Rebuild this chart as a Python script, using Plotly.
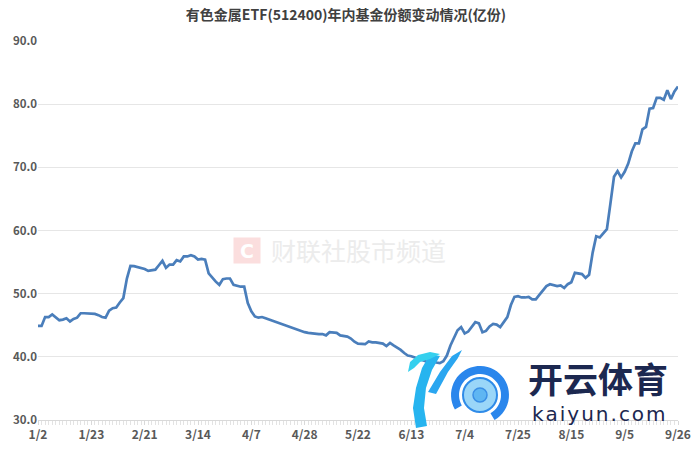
import math
import plotly.graph_objects as go

title_text = "有色金属ETF(512400)年内基金份额变动情况(亿份)"

tick_labels = ["1/2", "1/23", "2/21", "3/14", "4/7", "4/28", "5/22",
               "6/13", "7/4", "7/25", "8/15", "9/5", "9/26"]
label_step = 15

shares = [
    44.9, 44.9, 46.3, 46.3, 46.7, 46.3, 45.8, 45.9, 46.1, 45.6,
    46.0, 46.2, 46.9, 46.9, 46.9, 46.8, 46.8, 46.6, 46.3, 46.2,
    47.3, 47.7, 47.8, 48.6, 49.3, 52.4, 54.4, 54.35, 54.2, 54.0,
    53.9, 53.6, 53.7, 53.8, 54.5, 55.2, 54.1, 54.6, 54.6, 55.3,
    55.1, 55.9, 55.9, 56.1, 55.9, 55.4, 55.5, 55.4, 53.2, 52.5,
    51.9, 51.4, 52.3, 52.4, 52.4, 51.4, 51.2, 51.1, 51.1, 48.5,
    47.2, 46.4, 46.2, 46.3, 46.1, 45.9, 45.6, 45.4, 45.3, 45.1,
    44.8, 44.6, 44.4, 44.2, 44.0, 43.9, 43.8, 43.7, 43.65, 43.6,
    43.6, 43.4, 43.9, 43.9, 43.8, 43.4, 43.3, 43.2, 42.9, 42.4,
    42.1, 42.0, 42.0, 42.45, 42.3, 42.3, 42.2, 42.1, 41.7, 42.2,
    41.8, 41.5, 41.1, 40.6, 40.2, 40.1, 39.9, 39.6, 39.4, 39.3,
    39.2, 39.3, 39.1, 39.0, 39.3, 40.2, 41.8, 43.0, 44.2, 44.7,
    43.7, 44.0, 44.8, 45.5, 45.3, 43.9, 44.1, 44.8, 45.2, 45.1,
    44.7, 45.5, 46.3, 48.2, 49.5, 49.6, 49.4, 49.4, 49.5, 49.1,
    49.1, 49.8, 50.6, 51.2, 51.5, 51.3, 51.2, 51.3, 50.9, 51.5,
    51.8, 53.3, 53.2, 53.1, 52.5, 53.0, 56.5, 59.1, 58.9, 59.5,
    60.2, 64.3, 68.5, 69.4, 68.4, 69.3, 70.6, 72.5, 73.8, 73.8,
    76.0, 76.4, 79.3, 79.4, 81.0, 81.0, 80.7, 82.2, 80.8, 82.0,
    82.8,
]

x_idx = list(range(len(shares)))
tick_vals = [i * label_step for i in range(len(tick_labels))]

CJK = "Noto Sans CJK SC, Noto Sans, sans-serif"

# the page body margin is removed by post_script below, so figure px == screen px
W, H = 692, 450
ML, MR, MT, MB = 38, 14, 41, 30
PW, PH = W - ML - MR, H - MT - MB


def fx(px):  # screen pixel x -> paper x
    return (px - ML) / PW


def fy(py):  # screen pixel y -> paper y
    return (H - MB - py) / PH


def path_from(points):
    s = "M " + " L ".join(f"{fx(a):.4f},{fy(b):.4f}" for a, b in points)
    return s + " Z"


fig = go.Figure()
fig.add_trace(go.Scatter(
    x=x_idx, y=shares, mode="lines",
    line=dict(color="#4a7ebb", width=2.7),
    hoverinfo="skip", showlegend=False,
))

fig.update_layout(
    width=W, height=H,
    margin=dict(l=ML, r=MR, t=MT, b=MB),
    paper_bgcolor="white", plot_bgcolor="white",
    title=dict(text=title_text, x=346 / W, xanchor="center", xref="container",
               y=1 - 15 / H, yanchor="middle", pad=dict(t=0, b=0),
               font=dict(family=CJK, size=14, color="#404040", weight="bold")),
    xaxis=dict(
        range=[0, len(shares) - 1], automargin=False,
        tickmode="array", tickvals=tick_vals, ticktext=tick_labels,
        showgrid=False, zeroline=False,
        showline=True, linecolor="#d9d9d9", linewidth=1,
        ticks="outside", ticklen=4, tickcolor="#d9d9d9",
        minor=dict(tick0=0, dtick=1, ticks="outside", ticklen=4,
                   tickcolor="#e3e3e3", showgrid=False),
        tickfont=dict(family=CJK, size=12, color="#595959", weight=600),
    ),
    yaxis=dict(
        range=[30, 90], dtick=10, tickformat=".1f", automargin=False,
        showgrid=True, gridcolor="#e6e6e6", gridwidth=1,
        zeroline=False, showline=False, ticks="",
        tickfont=dict(family=CJK, size=11.5, color="#595959", weight=600),
    ),
)


def note(x, y, text, font, **kw):
    fig.add_annotation(xref="paper", yref="paper", x=fx(x), y=fy(y), text=text,
                       showarrow=False, xanchor="center", yanchor="middle",
                       font=font, **kw)


# 财联社 watermark
note(247, 250, "C", dict(family="DejaVu Sans", size=19, color="white", weight="bold"),
     bgcolor="#fbdede", width=26, height=25, borderpad=0)
note(358, 250, "财联社股市频道", dict(family=CJK, size=25, color="#ececec"))

# kaiyun logo watermark (decoration)
fig.add_shape(type="path", xref="paper", yref="paper",
              path=path_from([(430, 354), (422, 368), (416, 388), (413, 408), (416, 428),
                              (427, 426), (424, 408), (426, 388), (432, 370), (440, 356)]),
              line=dict(width=0), fillcolor="#27b4ef", layer="above")
fig.add_shape(type="path", xref="paper", yref="paper",
              path=path_from([(408, 372), (410, 362), (418, 355), (430, 352), (440, 354),
                              (430, 359), (420, 362), (414, 368)]),
              line=dict(width=0), fillcolor="#35d0ee", layer="above")
fig.add_shape(type="path", xref="paper", yref="paper",
              path=path_from([(428, 392), (440, 372), (452, 356), (462, 350),
                              (458, 358), (448, 372), (436, 394)]),
              line=dict(width=0), fillcolor="#2aa6f0", layer="above")
cx, cy = 480, 395
outer, inner = [], []
n = 40
a0, a1 = 150, 420
for k in range(n + 1):
    a = math.radians(a0 + k * (a1 - a0) / n)
    outer.append((cx + 29 * math.cos(a), cy + 29 * math.sin(a)))
for k in range(n, -1, -1):
    a = math.radians(a0 + k * (a1 - a0) / n)
    inner.append((cx + 21 * math.cos(a), cy + 21 * math.sin(a)))
fig.add_shape(type="path", xref="paper", yref="paper",
              path=path_from(outer + inner),
              line=dict(width=0), fillcolor="#2a86ec", layer="above")
fig.add_shape(type="circle", xref="paper", yref="paper",
              x0=fx(463), y0=fy(412), x1=fx(497), y1=fy(378),
              line=dict(color="#2f8be8", width=2), fillcolor="#9ad6f8", layer="above")
fig.add_shape(type="circle", xref="paper", yref="paper",
              x0=fx(473), y0=fy(402), x1=fx(487), y1=fy(388),
              line=dict(color="#3a8fe6", width=1.5), fillcolor="#5fb6f2", layer="above")

note(598, 377, "开云体育", dict(family=CJK, size=35, color="#1c2850", weight="bold"))
note(599, 414, "\u200a".join("kaiyun.com"),
     dict(family="DejaVu Sans", size=20, color="#1c2850"))

fig.write_html("out.html",
               config={"displayModeBar": False, "staticPlot": True},
               post_script="document.body.style.margin='0px';"
                           "document.documentElement.style.overflow='hidden';")
